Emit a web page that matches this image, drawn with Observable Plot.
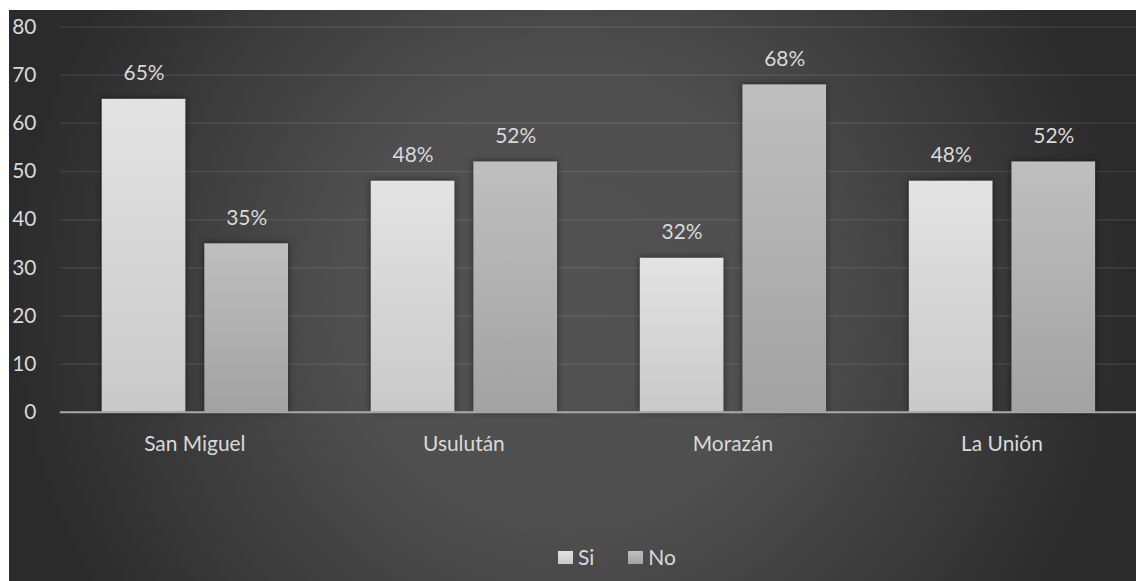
<!DOCTYPE html>
<html>
<head>
<meta charset="utf-8">
<script src="https://cdn.jsdelivr.net/npm/d3@7"></script>
<script src="https://cdn.jsdelivr.net/npm/@observablehq/plot@0.6"></script>
<style>
  body { margin: 0; background: #ffffff; }
  #frame {
    position: absolute; left: 9px; top: 10px; width: 1127px; height: 571px; overflow: hidden;
    background: radial-gradient(circle 560px at 559px 290px, #525252 0%, #4f4f4f 40%, #2b2b2b 100%);
    font-family: Lato, "Open Sans", sans-serif;
  }
  #chart { position: absolute; left: 0; top: 0; }
  #chart g[aria-label="bar"] rect { filter: drop-shadow(0 0 3px rgba(0,0,0,0.55)); }
  #legend {
    position: absolute; top: 535px; left: 549px; display: flex;
    font-size: 21px; color: #d9d9d9; line-height: 24px;
  }
  .item { display: flex; align-items: center; margin-right: 34px; }
  .sw { width: 15px; height: 13px; margin-right: 5px; }
</style>
</head>
<body>
<div id="frame">
  <div id="chart"></div>
  <div id="legend"></div>
</div>
<script>
const categories = ["San Miguel", "Usulután", "Morazán", "La Unión"];
const series = ["Si", "No"];
const siValues = [65, 48, 32, 48];
const noValues = [35, 52, 68, 52];
const yTicks = [0, 10, 20, 30, 40, 50, 60, 70, 80];
const seriesTop = ["#e3e3e3", "#bfbfbf"];
const seriesBottom = ["#c9c9c9", "#a2a2a2"];

const data = categories.flatMap((c, i) => [
  {cat: c, serie: "Si", value: siValues[i]},
  {cat: c, serie: "No", value: noValues[i]}
]);

const plot = Plot.plot({
  width: 1131,
  height: 470,
  marginLeft: 51,
  marginRight: 0,
  marginTop: 16.6,
  marginBottom: 66.7,
  style: {background: "transparent", color: "#d9d9d9", fontFamily: "Lato, 'Open Sans', sans-serif", fontSize: "21px", overflow: "visible"},
  fx: {domain: categories, paddingInner: 0, paddingOuter: 0, axis: null, label: null},
  x: {domain: series, paddingInner: 0.1845, paddingOuter: 0.398, axis: null},
  y: {domain: [0, 80], axis: null, label: null},
  color: {domain: series, range: ["url(#gSi)", "url(#gNo)"]},
  marks: [
    Plot.gridY(yTicks.filter(d => d > 0), {stroke: "#ffffff", strokeOpacity: 0.09, strokeWidth: 1.5}),
    Plot.axisY(yTicks, {tickSize: 0, tickPadding: 24, fontSize: 21, fill: "#d9d9d9", label: null}),
    Plot.barY(data, {fx: "cat", x: "serie", y: "value", fill: "serie"}),
    Plot.ruleY([0], {stroke: "#a8a8a8", strokeWidth: 2}),
    Plot.text(data, {fx: "cat", x: "serie", y: "value", text: d => d.value + "%", dy: -26, fontSize: 21, fill: "#d9d9d9"}),
    Plot.axisFx({tickSize: 0, tickPadding: 24, fontSize: 21, fill: "#d9d9d9", label: null, anchor: "bottom"})
  ]
});

const svg = d3.select(plot);
const defs = svg.insert("defs", ":first-child");
series.forEach((s, i) => {
  const g = defs.append("linearGradient").attr("id", "g" + s).attr("x1", 0).attr("y1", 0).attr("x2", 0).attr("y2", 1);
  g.append("stop").attr("offset", "0%").attr("stop-color", seriesTop[i]);
  g.append("stop").attr("offset", "100%").attr("stop-color", seriesBottom[i]);
});
document.getElementById("chart").appendChild(plot);

const legend = d3.select("#legend");
series.forEach((s, i) => {
  const item = legend.append("div").attr("class", "item");
  item.append("div").attr("class", "sw")
    .style("background", `linear-gradient(${seriesTop[i]}, ${seriesBottom[i]})`);
  item.append("span").text(s);
});
</script>
</body>
</html>
